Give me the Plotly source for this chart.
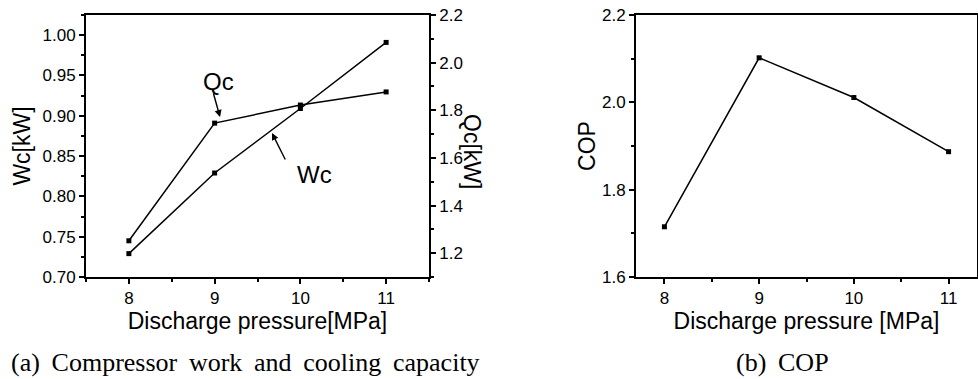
import plotly.graph_objects as go

pressure = [8, 9, 10, 11]
wc_kw = [0.729, 0.829, 0.909, 0.991]
qc_kw = [1.252, 1.746, 1.822, 1.877]
cop = [1.715, 2.102, 2.011, 1.887]

W, H = 978, 379
SANS = "Liberation Sans, Arial, sans-serif"
SERIF = "Liberation Serif, Times New Roman, serif"
GAP = " \u2009"

def px_x(p):
    return p / W

def px_y(p):
    return 1 - p / H

fig = go.Figure()

line = dict(color="black", width=1.5)
mk = dict(symbol="square", size=5, color="black")

fig.add_trace(go.Scatter(x=pressure, y=wc_kw, mode="lines+markers", line=line, marker=mk,
                         xaxis="x", yaxis="y", showlegend=False))
fig.add_trace(go.Scatter(x=pressure, y=qc_kw, mode="lines+markers", line=line, marker=mk,
                         xaxis="x", yaxis="y2", showlegend=False))
fig.add_trace(go.Scatter(x=pressure, y=cop, mode="lines+markers", line=line, marker=mk,
                         xaxis="x3", yaxis="y3", showlegend=False))

tickfont = dict(family=SANS, size=17, color="black")
titlefont = dict(family=SANS, size=23, color="black")

common = dict(showline=True, linecolor="black", linewidth=1.8, ticks="outside",
              ticklen=5, tickwidth=1.5, tickcolor="black", showgrid=False,
              zeroline=False, tickfont=tickfont, automargin=False)

ydom = [px_y(277), px_y(15)]

fig.update_layout(
    template="none",
    width=W, height=H, margin=dict(l=0, r=0, t=0, b=0, autoexpand=False),
    paper_bgcolor="white", plot_bgcolor="white",
    xaxis=dict(domain=[px_x(86), px_x(429)], range=[7.5, 11.5], dtick=1, anchor="y",
               mirror=True,
               minor=dict(ticks="outside", dtick=0.5, ticklen=3, tickcolor="black"),
               title=dict(text="Discharge pressure[MPa]", font=titlefont, standoff=6),
               **common),
    yaxis=dict(domain=ydom, range=[0.70, 1.025], dtick=0.05, tick0=0.70, tickformat=".2f",
               anchor="x",
               minor=dict(ticks="outside", dtick=0.025, ticklen=3, tickcolor="black"),
               title=dict(text="Wc[kW]", font=titlefont, standoff=6),
               **common),
    yaxis2=dict(domain=ydom, range=[1.1, 2.2], dtick=0.2, tick0=1.2, tickformat=".1f",
                overlaying="y", side="right", anchor="x",
                minor=dict(ticks="outside", dtick=0.1, ticklen=3, tickcolor="black"),
                **common),
    xaxis3=dict(domain=[px_x(636), px_x(977)], range=[7.7, 11.3], dtick=1, anchor="y3",
                mirror=True,
                minor=dict(ticks="outside", dtick=0.5, ticklen=3, tickcolor="black"),
                title=dict(text="Discharge pressure [MPa]", font=titlefont, standoff=6),
                **common),
    yaxis3=dict(domain=ydom, range=[1.6, 2.2], dtick=0.2, tick0=1.6, tickformat=".1f",
                anchor="x3", mirror=True,
                minor=dict(ticks="outside", dtick=0.1, ticklen=3, tickcolor="black"),
                title=dict(text="COP", font=titlefont, standoff=0),
                **common),
)

caption_a = GAP.join(["(a)", "Compressor", "work", "and", "cooling", "capacity"])
caption_b = GAP.join(["(b)", "COP"])

annos = [
    dict(text="Qc[kW]", x=px_x(472), y=px_y(151), xref="paper", yref="paper",
         xanchor="center", yanchor="middle",
         showarrow=False, textangle=90, font=titlefont),
    dict(text="Qc", x=9.04, y=0.942, xref="x", yref="y", showarrow=False,
         xanchor="center", yanchor="middle",
         font=dict(family=SANS, size=24, color="black")),
    dict(text="", x=9.063, y=0.8985, xref="x", yref="y", ax=-7, ay=-25, showarrow=True,
         arrowhead=2, arrowsize=1, arrowwidth=1.4, arrowcolor="black"),
    dict(text="Wc", x=10.159, y=0.8266, xref="x", yref="y", showarrow=False,
         xanchor="center", yanchor="middle",
         font=dict(family=SANS, size=24, color="black")),
    dict(text="", x=9.669, y=0.8787, xref="x", yref="y", ax=14, ay=28, showarrow=True,
         arrowhead=2, arrowsize=1, arrowwidth=1.4, arrowcolor="black"),
    dict(text=caption_a, x=px_x(245), y=px_y(362),
         xref="paper", yref="paper", showarrow=False, xanchor="center", yanchor="middle",
         font=dict(family=SERIF, size=26, color="black")),
    dict(text=caption_b, x=px_x(782), y=px_y(362), xref="paper", yref="paper",
         showarrow=False, xanchor="center", yanchor="middle",
         font=dict(family=SERIF, size=26, color="black")),
]
fig.update_layout(annotations=annos)

fig.write_html("out.html", config={"displayModeBar": False},
               post_script="document.body.style.margin='0';")
